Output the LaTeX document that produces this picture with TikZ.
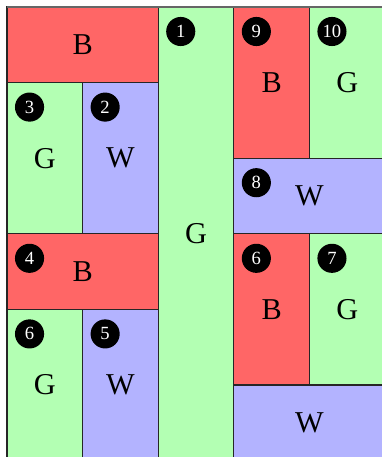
\documentclass[tikz,border=0pt]{standalone}
\usepackage{fontspec}
\setmainfont{Liberation Serif}
\definecolor{cr}{RGB}{255,102,102}
\definecolor{cg}{RGB}{179,255,179}
\definecolor{cw}{RGB}{179,179,255}
\tikzset{
  cell/.style={draw=black!85, line width=0.45pt, anchor=north west, inner sep=0pt, outer sep=0pt,
    font=\fontsize{11.4}{12}\selectfont},
  num/.style={circle, fill=black, text=white, minimum size=0.385cm, inner sep=0pt,
    font=\fontsize{7}{8}\selectfont},
  topedge/.style={draw=black!60, line width=0.75pt},
}
\newcommand{\mycell}[7]{% name, x, y, w, h, colour, text
  \node[cell, fill=#6, minimum width=#4cm, minimum height=#5cm] (#1) at (#2,#3) {#7};}
\begin{document}
\begin{tikzpicture}
\useasboundingbox (-0.0926,0.0926) rectangle (4.960,-5.952);
\clip (-0.0926,0.0926) rectangle (4.960,-5.952);
\mycell{c0}{0}{0}{2}{1}{cr}{B}
\mycell{c1}{2}{0}{1}{6}{cg}{G}
\mycell{c9}{3}{0}{1}{2}{cr}{B}
\mycell{c10}{4}{0}{1}{2}{cg}{G}
\mycell{c3}{0}{-1}{1}{2}{cg}{G}
\mycell{c2}{1}{-1}{1}{2}{cw}{W}
\mycell{c8}{3}{-2}{2}{1}{cw}{W}
\mycell{c4}{0}{-3}{2}{1}{cr}{B}
\mycell{c6r}{3}{-3}{1}{2}{cr}{B}
\mycell{c7}{4}{-3}{1}{2}{cg}{G}
\mycell{c6l}{0}{-4}{1}{2}{cg}{G}
\mycell{c5}{1}{-4}{1}{2}{cw}{W}
\mycell{cw0}{3}{-5}{2}{1}{cw}{W}
\draw[topedge] (c0.north west) -- (c10.north east);
\foreach \c/\t in {c1/1, c2/2, c3/3, c4/4, c5/5, c6l/6, c6r/6, c7/7, c8/8, c9/9, c10/10}
  \node[num] (n\c) at ([shift={(0.298,-0.324)}]\c.north west) {\t};
\end{tikzpicture}
\end{document}
